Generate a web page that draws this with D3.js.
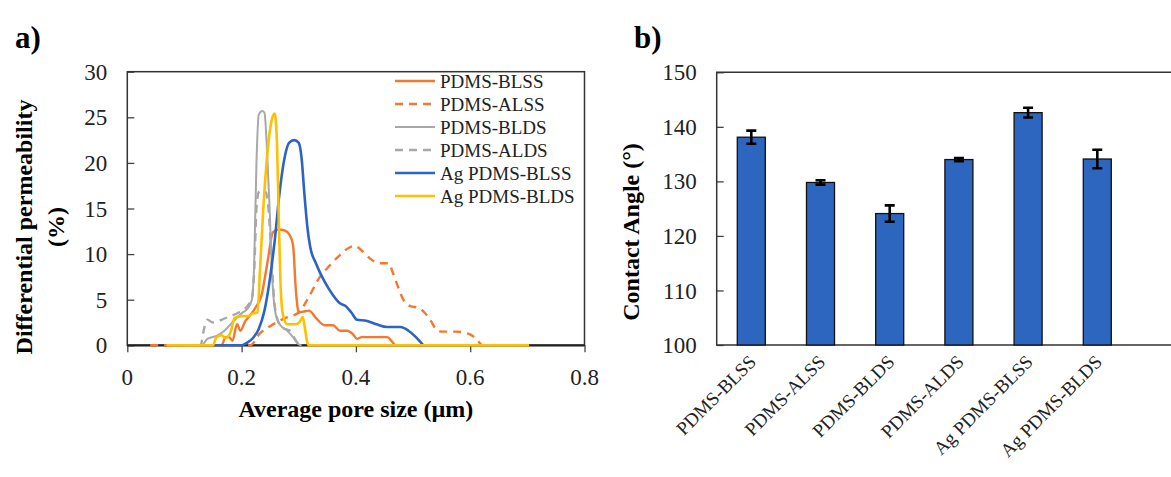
<!DOCTYPE html>
<html>
<head>
<meta charset="utf-8">
<script src="https://cdn.jsdelivr.net/npm/d3@7"></script>
<style>
  body { margin: 0; background: #fff; }
  svg { display: block; font-family: "Liberation Serif", "Times New Roman", serif; }
  .ttl { font-weight: bold; }
</style>
</head>
<body>
<div id="chart"></div>
<script>
// ---- panel a) : pore size distributions, [pore size (µm), differential permeability (%)]
const seriesNames = ["PDMS-BLSS", "PDMS-ALSS", "PDMS-BLDS", "PDMS-ALDS", "Ag PDMS-BLSS", "Ag PDMS-BLDS"];

const pdmsBLSS = [[0.10,0],[0.165,0],[0.172,0.9],[0.178,0.9],[0.184,0.5],[0.192,2.3],[0.198,1.6],[0.206,2.6],[0.215,3.3],[0.225,4.2],[0.235,5.5],[0.245,9],[0.255,12.4],[0.265,12.7],[0.275,12.6],[0.283,12.2],[0.29,11],[0.295,6],[0.30,3.6],[0.308,3.7],[0.318,3.8],[0.33,3.0],[0.345,2.2],[0.36,2.2],[0.372,1.6],[0.385,1.6],[0.395,1.2],[0.402,0.7],[0.41,0.9],[0.455,0.9],[0.462,0.5],[0.468,0]];
const pdmsALSS = [[0.04,0],[0.215,0],[0.232,1.3],[0.25,2.1],[0.273,2.9],[0.30,3.6],[0.315,5.0],[0.337,7.5],[0.355,8.8],[0.372,9.9],[0.388,10.7],[0.398,10.9],[0.41,10.4],[0.425,9.5],[0.44,9.0],[0.457,9.0],[0.465,7.9],[0.475,6.2],[0.483,5.0],[0.495,4.3],[0.51,4.1],[0.52,3.6],[0.53,2.8],[0.54,1.8],[0.55,1.5],[0.575,1.5],[0.595,1.3],[0.605,1.0],[0.612,0.6],[0.62,0]];
const pdmsBLDS = [[0.10,0],[0.13,0],[0.14,0.7],[0.155,1.0],[0.17,1.6],[0.185,2.6],[0.20,3.5],[0.21,4.0],[0.218,5.0],[0.222,9],[0.226,20],[0.23,25.3],[0.236,25.7],[0.24,25.5],[0.244,22],[0.249,15],[0.254,7],[0.26,3.3],[0.268,2.2],[0.278,1.7],[0.29,0.9],[0.30,0.1],[0.305,0]];
const pdmsALDS = [[0.10,0],[0.128,0],[0.135,2.0],[0.14,2.8],[0.15,2.5],[0.165,2.8],[0.18,3.2],[0.195,3.6],[0.21,4.3],[0.218,5.2],[0.222,8],[0.226,15],[0.23,16.8],[0.236,17.0],[0.242,16.8],[0.247,15],[0.252,10],[0.257,5],[0.263,2.8],[0.272,1.9],[0.285,1.6],[0.295,0.5],[0.302,0]];
const agBLSS = [[0.15,0],[0.20,0],[0.21,0.3],[0.22,0.8],[0.23,1.8],[0.24,3.8],[0.25,7.5],[0.258,11.5],[0.266,16.5],[0.275,20.5],[0.283,22.2],[0.292,22.5],[0.30,22.2],[0.305,20.5],[0.31,16.5],[0.315,13],[0.32,10.8],[0.33,9.0],[0.345,7.0],[0.36,5.5],[0.372,4.6],[0.382,4.3],[0.392,3.6],[0.402,2.8],[0.418,2.7],[0.436,2.3],[0.455,2.0],[0.478,2.0],[0.492,1.6],[0.505,0.9],[0.518,0]];
const agBLDS = [[0.069,0],[0.15,0],[0.156,0.9],[0.165,1.1],[0.172,0.8],[0.18,1.3],[0.188,3.0],[0.20,3.2],[0.212,3.2],[0.22,3.5],[0.228,3.6],[0.232,8],[0.238,15],[0.245,21],[0.252,24.5],[0.258,25.4],[0.262,22],[0.265,14],[0.268,7],[0.272,3.5],[0.28,2.3],[0.295,2.3],[0.302,2.6],[0.307,3.1],[0.31,2.2],[0.315,0.3],[0.318,0],[0.703,0]];

const xTicksA = [0, 0.2, 0.4, 0.6, 0.8];
const yTicksA = [0, 5, 10, 15, 20, 25, 30];

// ---- panel b) : contact angle
const samples = ["PDMS-BLSS", "PDMS-ALSS", "PDMS-BLDS", "PDMS-ALDS", "Ag PDMS-BLSS", "Ag PDMS-BLDS"];
const contactAngle = [138.1, 129.8, 124.1, 134.0, 142.6, 134.1];
const angleError = [1.2, 0.4, 1.5, 0.3, 0.9, 1.7];
const yTicksB = [100, 110, 120, 130, 140, 150];

const W = 1171, H = 477;
const svg = d3.select("#chart").append("svg").attr("width", W).attr("height", H);
svg.append("rect").attr("width", W).attr("height", H).attr("fill", "#fff");

// panel labels
svg.append("text").attr("class", "ttl").attr("x", 15).attr("y", 48).attr("font-size", 31).text("a)");
svg.append("text").attr("class", "ttl").attr("x", 634).attr("y", 48).attr("font-size", 31).text("b)");

// ================= panel a =================
const pa = { left: 127.3, right: 584.5, top: 71.7, bottom: 345.3 };
const x = d3.scaleLinear().domain([0, 0.8]).range([pa.left, pa.right]);
const y = d3.scaleLinear().domain([0, 30]).range([pa.bottom, pa.top]);

const gA = svg.append("g");

// y ticks (inside) + labels
const yAxisA = d3.axisRight(y).tickValues(yTicksA).tickSize(7).tickFormat("");
gA.append("g").attr("transform", `translate(${pa.left},0)`).call(yAxisA)
  .call(g => g.select(".domain").remove())
  .call(g => g.selectAll("line").attr("stroke", "#444").attr("stroke-width", 1.3));
gA.selectAll(".ylab").data(yTicksA).enter().append("text")
  .attr("x", pa.left - 20).attr("y", d => y(d)).attr("dy", "0.35em")
  .attr("text-anchor", "end").attr("font-size", 23).attr("fill", "#222").text(d => d);

// x ticks (outside) + labels
const xAxisA = d3.axisBottom(x).tickValues(xTicksA).tickSize(7).tickFormat("");
gA.append("g").attr("transform", `translate(0,${pa.bottom})`).call(xAxisA)
  .call(g => g.select(".domain").remove())
  .call(g => g.selectAll("line").attr("stroke", "#444").attr("stroke-width", 1.3));
gA.selectAll(".xlab").data(xTicksA).enter().append("text")
  .attr("x", d => x(d)).attr("y", pa.bottom + 40)
  .attr("text-anchor", "middle").attr("font-size", 23).attr("fill", "#222").text(d => d);

// plot frame
gA.append("rect").attr("x", pa.left).attr("y", pa.top)
  .attr("width", pa.right - pa.left).attr("height", pa.bottom - pa.top)
  .attr("fill", "none").attr("stroke", "#333").attr("stroke-width", 1.5);
gA.append("line").attr("x1", pa.left).attr("x2", pa.right).attr("y1", y(0)).attr("y2", y(0))
  .attr("stroke", "#222").attr("stroke-width", 2.2);

// curves
const styles = [
  { data: pdmsBLSS, color: "#F4782E", dash: null, w: 2.4 },
  { data: pdmsALSS, color: "#F4782E", dash: "8,6", w: 2.4 },
  { data: pdmsBLDS, color: "#A8A8A8", dash: null, w: 2.0 },
  { data: pdmsALDS, color: "#A8A8A8", dash: "8,6", w: 2.4 },
  { data: agBLSS, color: "#2B63C6", dash: null, w: 2.6 },
  { data: agBLDS, color: "#FFC000", dash: null, w: 2.6 }
];
const line = d3.line().x(d => x(d[0])).y(d => y(d[1])).curve(d3.curveMonotoneX);
styles.forEach(s => {
  gA.append("path").datum(s.data).attr("d", line)
    .attr("fill", "none").attr("stroke", s.color).attr("stroke-width", s.w)
    .attr("stroke-dasharray", s.dash).attr("stroke-linejoin", "round");
});

// legend
const leg = gA.append("g");
seriesNames.forEach((name, i) => {
  const ly = 81 + i * 23;
  const s = styles[i];
  leg.append("line").attr("x1", 395).attr("x2", 435).attr("y1", ly).attr("y2", ly)
    .attr("stroke", s.color).attr("stroke-width", s.w).attr("stroke-dasharray", s.dash);
  leg.append("text").attr("x", 440).attr("y", ly).attr("dy", "0.35em")
    .attr("font-size", 19).attr("fill", "#222").text(name);
});

// axis titles
gA.append("text").attr("class", "ttl").attr("font-size", 24)
  .attr("text-anchor", "middle").attr("dy", "0.35em")
  .attr("transform", "translate(24,227) rotate(-90)").text("Differential permeability");
gA.append("text").attr("class", "ttl").attr("font-size", 24)
  .attr("text-anchor", "middle").attr("dy", "0.35em")
  .attr("transform", "translate(56,227) rotate(-90)").text("(%)");
gA.append("text").attr("class", "ttl").attr("font-size", 24)
  .attr("text-anchor", "middle").attr("x", (pa.left + pa.right) / 2).attr("y", 417)
  .text("Average pore size (µm)");

// ================= panel b =================
const pb = { left: 716.7, top: 72.3, bottom: 345 };
const step = 69.2;
const xb = d3.scaleBand().domain(samples)
  .range([pb.left, pb.left + step * samples.length]).paddingInner(0.595).paddingOuter(0.2975);
const yb = d3.scaleLinear().domain([100, 150]).range([pb.bottom, pb.top]);

const gB = svg.append("g");
const yAxisB = d3.axisRight(yb).tickValues(yTicksB).tickSize(7).tickFormat("");
gB.append("g").attr("transform", `translate(${pb.left},0)`).call(yAxisB)
  .call(g => g.select(".domain").remove())
  .call(g => g.selectAll("line").attr("stroke", "#444").attr("stroke-width", 1.3));
gB.selectAll(".ylab").data(yTicksB).enter().append("text")
  .attr("x", pb.left - 20).attr("y", d => yb(d)).attr("dy", "0.35em")
  .attr("text-anchor", "end").attr("font-size", 23).attr("fill", "#222").text(d => d);

// frame (runs past the right edge of the picture)
gB.append("path").attr("d", `M${W + 40},${pb.top}H${pb.left}V${pb.bottom}H${W + 40}`)
  .attr("fill", "none").attr("stroke", "#333").attr("stroke-width", 1.5);

gB.selectAll(".bar").data(samples).enter().append("rect")
  .attr("x", d => xb(d)).attr("width", xb.bandwidth())
  .attr("y", (d, i) => yb(contactAngle[i]))
  .attr("height", (d, i) => yb(100) - yb(contactAngle[i]))
  .attr("fill", "#2D66BF").attr("stroke", "#111").attr("stroke-width", 1.3);

const capW = 5;
samples.forEach((d, i) => {
  const cx = xb(d) + xb.bandwidth() / 2;
  const hi = yb(contactAngle[i] + angleError[i]), lo = yb(contactAngle[i] - angleError[i]);
  gB.append("path")
    .attr("d", `M${cx},${hi}V${lo}M${cx - capW},${hi}H${cx + capW}M${cx - capW},${lo}H${cx + capW}`)
    .attr("stroke", "#000").attr("stroke-width", 2.6).attr("fill", "none");
});

gB.selectAll(".xlab").data(samples).enter().append("text")
  .attr("text-anchor", "end").attr("font-size", 19).attr("fill", "#222")
  .attr("transform", d => `translate(${xb(d) + xb.bandwidth() / 2 + 6},${pb.bottom + 18}) rotate(-45)`)
  .text(d => d);

gB.append("text").attr("class", "ttl").attr("font-size", 24)
  .attr("text-anchor", "middle").attr("dy", "0.35em")
  .attr("transform", "translate(631,232) rotate(-90)").text("Contact Angle (°)");
</script>
</body>
</html>
